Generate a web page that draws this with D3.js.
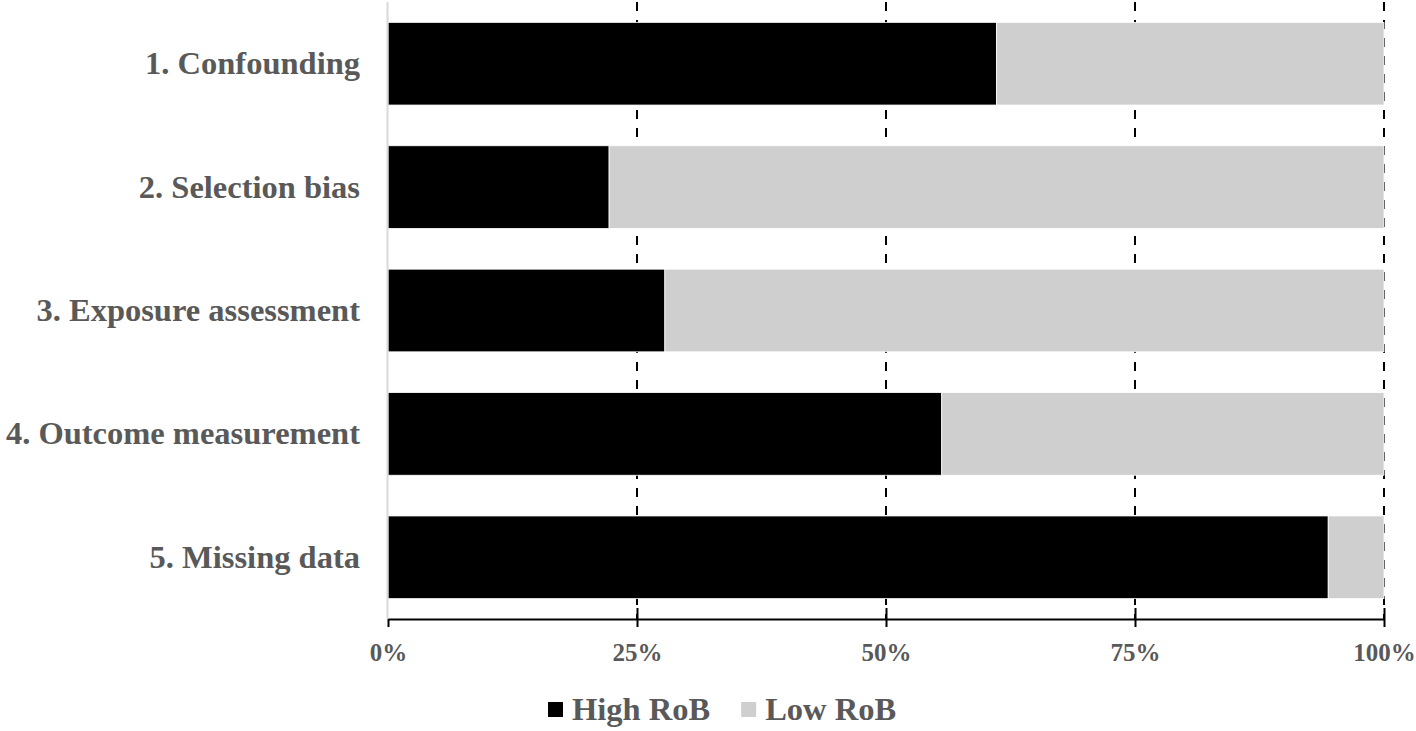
<!DOCTYPE html>
<html>
<head>
<meta charset="utf-8">
<script src="https://cdn.jsdelivr.net/npm/d3@7"></script>
<style>
  html, body { margin: 0; padding: 0; background: #fff; }
  svg text { font-family: "Liberation Serif", "Times New Roman", serif; font-weight: bold; fill: #595959; }
</style>
</head>
<body>
<svg id="chart" width="1416" height="731"></svg>
<script>
// domains of the risk of bias tool
let domains = ['1. Confounding', '2. Selection bias', '3. Exposure assessment', '4. Outcome measurement', '5. Missing data'];
// share of studies (out of 1) rated high / low
let highRob = [0.611, 0.222, 0.278, 0.556, 0.944];
let lowRob = [0.389, 0.778, 0.722, 0.444, 0.056];
let seriesNames = ['High RoB', 'Low RoB'];
let seriesColors = ['#000000', '#d0cfd0'];
let tickValues = [0, 0.25, 0.5, 0.75, 1];

let svg = d3.select('#chart');
let margin = {top: 2, left: 388, right: 32, bottom: 112};
let width = 1416, height = 731;

let xScale = d3.scaleLinear()
    .domain([0, 1])
    .range([margin.left, width - margin.right]);

let yScale = d3.scaleBand()
    .domain(domains)
    .range([margin.top, height - margin.bottom])
    .paddingInner(0.33)
    .paddingOuter(0.165);

let axisY = height - margin.bottom;

// dashed gridlines, drawn behind the bars
svg.append('g')
    .selectAll('line')
    .data(tickValues.slice(1))
    .join('line')
    .attr('x1', d => xScale(d))
    .attr('x2', d => xScale(d))
    .attr('y1', margin.top)
    .attr('y2', axisY)
    .attr('stroke', '#000')
    .attr('stroke-width', 2)
    .attr('stroke-dasharray', '9,9');

// stack the two series per domain
let rows = domains.map((name, i) => ({name: name, high: highRob[i], low: lowRob[i]}));
let stack = d3.stack().keys(['high', 'low']);
let stacked = stack(rows);

svg.append('g')
    .selectAll('g')
    .data(stacked)
    .join('g')
    .attr('fill', (d, i) => seriesColors[i])
    .selectAll('rect')
    .data(d => d)
    .join('rect')
    .attr('x', d => xScale(d[0]))
    .attr('width', d => xScale(d[1]) - xScale(d[0]))
    .attr('y', d => yScale(d.data.name))
    .attr('height', yScale.bandwidth())
    .attr('stroke', '#fff')
    .attr('stroke-width', 0.8);

// vertical category axis (light gray line)
svg.append('line')
    .attr('x1', xScale(0) - 0.5)
    .attr('x2', xScale(0) - 0.5)
    .attr('y1', margin.top)
    .attr('y2', axisY)
    .attr('stroke', '#d9d9d9')
    .attr('stroke-width', 2);

// category labels
svg.append('g')
    .selectAll('text')
    .data(domains)
    .join('text')
    .attr('x', 360)
    .attr('y', d => yScale(d) + yScale.bandwidth() / 2)
    .attr('dy', '0.32em')
    .attr('text-anchor', 'end')
    .style('font-size', '32.5px')
    .text(d => d);

// x axis with crossing tick marks
let xAxis = d3.axisBottom(xScale)
    .tickValues(tickValues)
    .tickFormat(d3.format('.0%'))
    .tickSizeOuter(0)
    .tickSizeInner(8)
    .tickPadding(16);

let axisG = svg.append('g')
    .attr('transform', `translate(0, ${axisY})`)
    .call(xAxis);

axisG.select('.domain')
    .attr('stroke', '#000')
    .attr('stroke-width', 2);
axisG.selectAll('.tick line')
    .attr('stroke', '#000')
    .attr('stroke-width', 2)
    .attr('y1', d => d === 0 ? 0 : -11);
axisG.selectAll('.tick text')
    .attr('font-family', null)
    .attr('font-size', null)
    .attr('fill', null)
    .style('font-size', '25px');

// legend
let legend = svg.append('g').attr('transform', `translate(548, 720)`);
let offset = 0;
seriesNames.forEach((name, i) => {
    let item = legend.append('g').attr('transform', `translate(${offset}, 0)`);
    item.append('rect')
        .attr('x', 0)
        .attr('y', -18)
        .attr('width', 15)
        .attr('height', 15)
        .attr('fill', seriesColors[i]);
    let label = item.append('text')
        .attr('x', 24)
        .attr('y', 0)
        .style('font-size', '32.5px')
        .text(name);
    offset += 24 + label.node().getComputedTextLength() + 31;
});
</script>
</body>
</html>
